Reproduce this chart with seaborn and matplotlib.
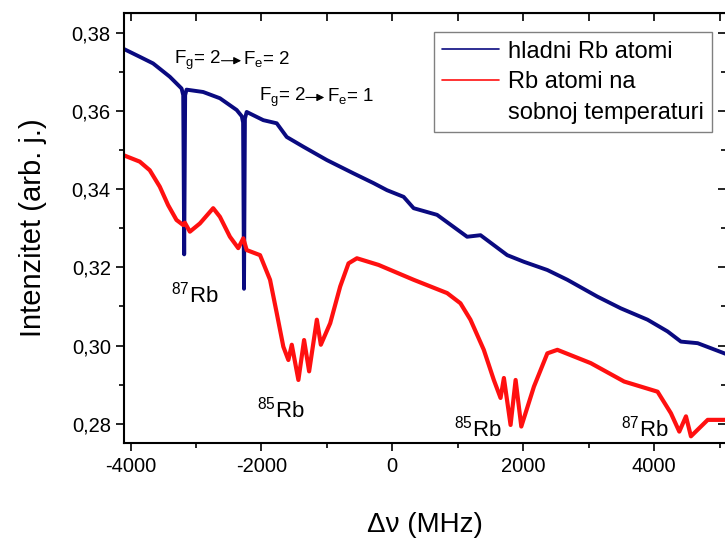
import numpy as np
import pandas as pd
import matplotlib
matplotlib.use('Agg')
import matplotlib.pyplot as plt
import seaborn as sns
from matplotlib.lines import Line2D
from matplotlib.ticker import MultipleLocator, FuncFormatter

# detuning (MHz) and intensity
cold_x = [-4115, -3859, -3655, -3400, -3220, -3195, -3180, -3165, -3144, -2890,
          -2634, -2378, -2300, -2280, -2266, -2252, -2225, -1971, -1766, -1613,
          -1358, -1000, -593, -286, -81, 173, 326, 684, 1143, 1348,
          1756, 2011, 2369, 2675, 3134, 3492, 3900, 4206, 4410, 4666,
          5074, 5120]
cold_y = [0.3759, 0.3738, 0.3721, 0.3687, 0.3657, 0.3640, 0.3233, 0.3640, 0.3654, 0.3648,
          0.3632, 0.3602, 0.3586, 0.3570, 0.3145, 0.3580, 0.3597, 0.3576, 0.3568, 0.3533,
          0.3508, 0.3474, 0.3440, 0.3415, 0.3397, 0.3380, 0.3351, 0.3334, 0.3278, 0.3282,
          0.3231, 0.3214, 0.3193, 0.3168, 0.3125, 0.3095, 0.3066, 0.3036, 0.3010, 0.3006,
          0.2980, 0.2977]

room_x = [-4115, -3859, -3706, -3553, -3426, -3298, -3196, -3170, -3093, -2940,
          -2737, -2634, -2481, -2354, -2277, -2225, -2021, -1868, -1766, -1665,
          -1588, -1536, -1435, -1348, -1271, -1153, -1092, -949, -796, -669,
          -541, -210, 326, 838, 1041, 1194, 1398, 1551, 1654, 1705,
          1807, 1884, 1971, 2164, 2369, 2522, 3032, 3542, 4053, 4257,
          4385, 4487, 4563, 4819, 5120]
room_y = [0.3487, 0.3470, 0.3448, 0.3406, 0.3359, 0.3321, 0.3308, 0.3314, 0.3291, 0.3312,
          0.3351, 0.3329, 0.3278, 0.3249, 0.3274, 0.3244, 0.3231, 0.3168, 0.3083, 0.2997,
          0.2963, 0.3002, 0.2912, 0.3014, 0.2934, 0.3066, 0.3002, 0.3057, 0.3151, 0.3210,
          0.3223, 0.3206, 0.3168, 0.3134, 0.3108, 0.3066, 0.2989, 0.2912, 0.2866, 0.2917,
          0.2797, 0.2912, 0.2793, 0.2895, 0.2980, 0.2989, 0.2955, 0.2908, 0.2882, 0.2827,
          0.2780, 0.2819, 0.2768, 0.2810, 0.2810]

legend_labels = ['hladni Rb atomi', 'Rb atomi na', 'sobnoj temperaturi']
blue = '#0a0a80'
red = '#ff1010'

sns.set_style('ticks')
plt.rcParams['font.family'] = ['Liberation Sans', 'DejaVu Sans']
plt.rcParams['mathtext.fontset'] = 'custom'
plt.rcParams['mathtext.rm'] = 'Liberation Sans'
plt.rcParams['mathtext.it'] = 'Liberation Sans:italic'
plt.rcParams['axes.unicode_minus'] = False
plt.rcParams['text.color'] = 'black'
plt.rcParams['axes.labelcolor'] = 'black'

fig = plt.figure(figsize=(7.25, 5.4), dpi=100)
ax = fig.add_axes([0.171, 0.179, 0.8305, 0.797])

sns.lineplot(x=cold_x, y=cold_y, color=blue, lw=2.8, estimator=None, sort=False, ax=ax)
sns.lineplot(x=room_x, y=room_y, color=red, lw=3.0, estimator=None, sort=False, ax=ax)

ax.set_xlim(-4100, 5100)
ax.set_ylim(0.275, 0.385)
ax.xaxis.set_major_locator(MultipleLocator(2000))
ax.xaxis.set_minor_locator(MultipleLocator(1000))
ax.yaxis.set_major_locator(MultipleLocator(0.02))
ax.yaxis.set_minor_locator(MultipleLocator(0.01))
ax.yaxis.set_major_formatter(FuncFormatter(lambda v, p: f'{v:.2f}'.replace('.', ',')))
ax.tick_params(which='major', direction='out', length=6, width=1.2, labelsize=14.5,
               colors='black', labelcolor='black')
ax.tick_params(which='minor', direction='out', length=3.5, width=1.2, colors='black')
for s in ax.spines.values():
    s.set_linewidth(1.5)
    s.set_color('black')

top = ax.secondary_xaxis('top')
top.xaxis.set_major_locator(MultipleLocator(1000))
top.tick_params(direction='in', length=6, width=1.2, labeltop=False, colors='black')
right = ax.secondary_yaxis('right')
right.yaxis.set_major_locator(MultipleLocator(0.02))
right.yaxis.set_minor_locator(MultipleLocator(0.01))
right.tick_params(which='major', direction='in', length=6, width=1.2, labelright=False, colors='black')
right.tick_params(which='minor', direction='in', length=3.5, width=1.2, colors='black')

ax.set_xlabel('Δν (MHz)', fontsize=20, labelpad=26)
ax.set_ylabel('Intenzitet (arb. j.)', fontsize=21, labelpad=18)

# transition labels
ax.text(-3338, 0.3719, r'F$_{\rm g}$= 2', fontsize=13.5, va='baseline')
ax.annotate('', xy=(-2310, 0.3728), xytext=(-2610, 0.3728),
            arrowprops=dict(arrowstyle='-|>', color='black', lw=0.8, mutation_scale=11,
                            shrinkA=0, shrinkB=0))
ax.text(-2277, 0.3719, r'F$_{\rm e}$= 2', fontsize=13.5, va='baseline')
ax.text(-2032, 0.3625, r'F$_{\rm g}$= 2', fontsize=13.5, va='baseline')
ax.annotate('', xy=(-1040, 0.3634), xytext=(-1320, 0.3634),
            arrowprops=dict(arrowstyle='-|>', color='black', lw=0.8, mutation_scale=11,
                            shrinkA=0, shrinkB=0))
ax.text(-1000, 0.3625, r'F$_{\rm e}$= 1', fontsize=13.5, va='baseline')

ax.text(-3374, 0.3110, r'$^{87}$Rb', fontsize=16, va='baseline')
ax.text(-2063, 0.2815, r'$^{85}$Rb', fontsize=16, va='baseline')
ax.text(939, 0.2768, r'$^{85}$Rb', fontsize=16, va='baseline')
ax.text(3492, 0.2768, r'$^{87}$Rb', fontsize=16, va='baseline')

handles = [Line2D([], [], color=blue, lw=1.2),
           Line2D([], [], color=red, lw=1.2),
           Line2D([], [], color='none', lw=1.2)]
leg = ax.legend(handles, legend_labels, loc='upper right', bbox_to_anchor=(0.977, 0.955),
                fontsize=17, frameon=True, fancybox=False, framealpha=1,
                edgecolor='#808080', handlelength=2.4, labelspacing=0.36,
                borderpad=0.35, handletextpad=0.4, borderaxespad=0)
leg.get_frame().set_linewidth(1.0)

fig.savefig('out.png', dpi=100)
